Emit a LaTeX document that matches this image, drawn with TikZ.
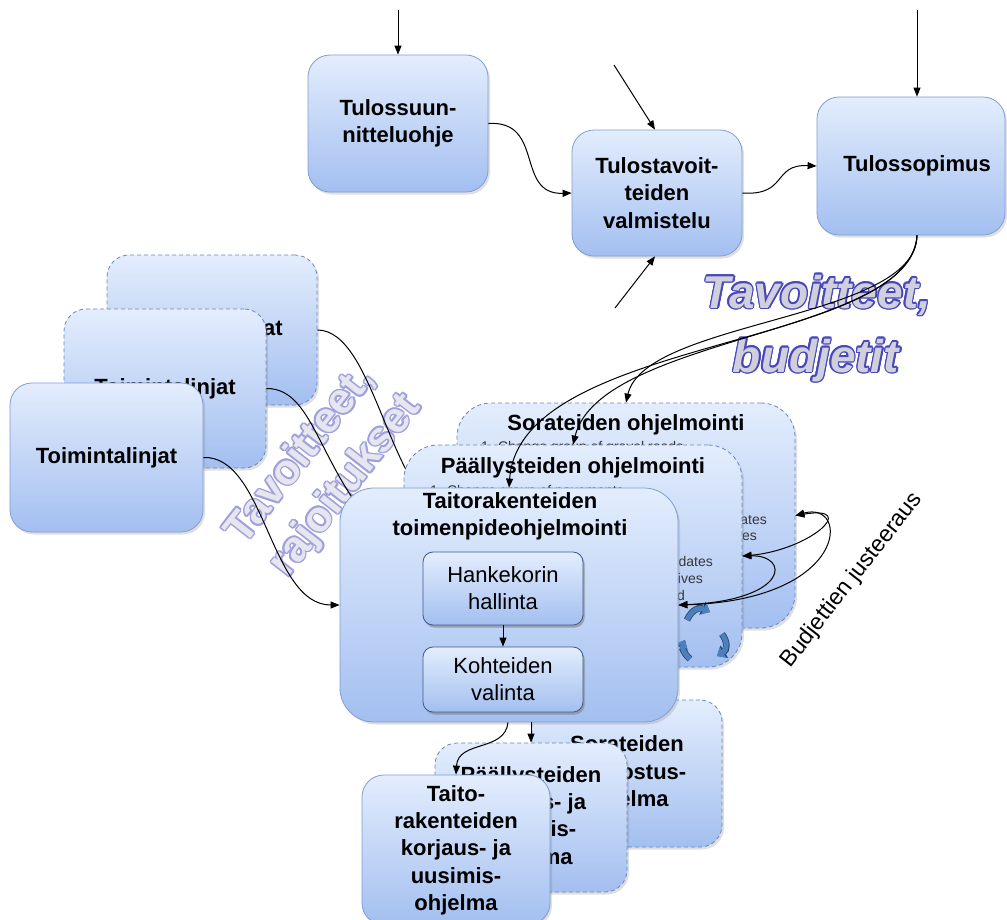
\documentclass[tikz,border=0pt]{standalone}
\usepackage{fontspec}
\setmainfont{Liberation Sans}
\usetikzlibrary{arrows.meta,shadows,calc}

\definecolor{boxtop}{RGB}{227,237,253}
\definecolor{boxbot}{RGB}{163,191,240}
\definecolor{boxline}{RGB}{128,158,210}
\definecolor{dashline}{RGB}{105,135,190}
\definecolor{innerline}{RGB}{60,90,140}
\definecolor{outlA}{RGB}{72,72,188}
\definecolor{fillA}{RGB}{208,208,220}
\definecolor{outlB}{RGB}{160,160,222}
\definecolor{fillB}{RGB}{230,230,238}
\definecolor{iconblue}{RGB}{75,128,188}
\definecolor{icondark}{RGB}{40,70,110}
\definecolor{smallgray}{RGB}{55,55,55}

\newcommand\titlesize{\fontsize{22}{27.3}\selectfont\bfseries}
\newcommand\innersize{\fontsize{22}{27}\selectfont}
\newcommand\smallsize{\fontsize{14}{17}\selectfont}
\newcommand\midbig{\fontsize{43}{50}\selectfont\bfseries}
\newcommand\bigit{\fontsize{46}{56}\selectfont\bfseries\itshape}
\newcommand\budgsize{\fontsize{23}{27}\selectfont}

% text with a coloured outline: copies in the outline colour, fill copy on top
\newcommand\outlinetext[6]{%
  \foreach \oa in {0,30,...,330}{%
    \path ($(#2)+(\oa:1.5pt)$) node[#3, text=#5] {#6};}%
  \node[#3, text=#4] (#1) at (#2) {#6};}

\tikzset{
  pbox/.style={draw=boxline, line width=0.8pt, rounded corners=22pt,
    top color=boxtop, bottom color=boxbot, align=center, inner sep=0pt,
    font=\titlesize,
    drop shadow={opacity=0.25, shadow xshift=2pt, shadow yshift=-2.5pt}},
  backbox/.style={pbox, draw=dashline, dash pattern=on 4pt off 3pt},
  bigr/.style={rounded corners=34pt},
  innerbox/.style={pbox, draw=innerline, rounded corners=10pt, font=\innersize,
    drop shadow={opacity=0.45, shadow xshift=1.5pt, shadow yshift=-2.5pt}},
  smalltxt/.style={font=\smallsize, text=smallgray, inner sep=0pt},
  arr/.style={-{Triangle[length=9pt,width=7pt]}, line width=1pt},
  biarr/.style={{Triangle[length=9pt,width=7pt]}-{Triangle[length=9pt,width=7pt]}, line width=1pt},
  iconarr/.style={line width=5pt, draw=iconblue, -{Triangle[length=7pt,width=12pt]}}
}

\begin{document}
\begin{tikzpicture}[x=1pt,y=-1pt]
\useasboundingbox (0,0) rectangle (1007,919);
\fill[white] (0,0) rectangle (1007,919);

% ---- performance agreement chain ----
\node[pbox, minimum width=180pt, minimum height=137pt] (tsuun) at (398,123.5) {Tulossuun-\\nitteluohje};
\node[pbox, minimum width=170pt, minimum height=126pt] (tval) at (657,193) {Tulostavoit-\\teiden\\valmistelu};
\node[pbox, minimum width=188pt, minimum height=138pt] (tsop) at (911,166) {\hspace*{12pt}Tulossopimus};

\coordinate (in1) at (398,10);
\coordinate (in2) at (614,65);
\coordinate (in3) at (615,308);
\coordinate (in4) at (917,10);
\draw[arr] (in1) -- (tsuun.north);
\draw[arr] (in2) -- ([xshift=-2pt]tval.north);
\draw[arr] (in3) -- ([xshift=-2pt]tval.south);
\draw[arr] (in4) -- (in4 |- tsop.north);
\draw[arr] (tsuun.east) .. controls (545,120) and (515,195) .. (tval.west);
\draw[arr] (tval.east) .. controls (788,196) and (772,164) .. (tsop.west);

\outlinetext{tb1}{817,308}{font=\bigit, anchor=base}{fillA}{outlA}{Tavoitteet,}
\outlinetext{tb2}{816,372}{font=\bigit, anchor=base}{fillA}{outlA}{budjetit}

% ---- policy lines ----
\node[backbox, minimum width=210pt, minimum height=150pt] (tl3) at (212,330) {Toimintalinjat};
\node[backbox, minimum width=202pt, minimum height=159pt] (tl2) at (165,388.5) {Toimintalinjat};
\node[pbox, minimum width=193pt, minimum height=149pt] (tl1) at (106.5,457.5) {Toimintalinjat};

\outlinetext{tr1}{300,455}{font=\midbig, rotate=52}{fillB}{outlB}{Tavoitteet,}
\outlinetext{tr2}{346,486}{font=\midbig, rotate=52}{fillB}{outlB}{rajoitukset}

% ---- gravel road programming ----
\node[backbox, bigr, minimum width=338pt, minimum height=225pt] (sor) at (626,515.5) {};
\node[font=\titlesize] (sortitle) at (626,425) {Sorateiden ohjelmointi};
\node[smalltxt, anchor=west] (sor1) at (481,448) {1. Change group of gravel roads};
\node[smalltxt, anchor=east] (sor2) at (767,521) {2. Updates};
\node[smalltxt, anchor=east] (sor3) at (757,537) {objectives};
\node[smalltxt, anchor=east] (sor4) at (739,553) {approved};
\draw[arr] (tl3.east) .. controls (375,330) and (390,500) .. (sor.west);

% ---- pavement programming ----
\node[backbox, bigr, minimum width=338pt, minimum height=222pt] (pa) at (573,556) {};
\node[font=\titlesize] (patitle) at (573,468) {Päällysteiden ohjelmointi};
\node[smalltxt, anchor=west] (pa1) at (430,492) {1. Change group of pavements};
\node[smalltxt, anchor=east] (pa2) at (713,563) {2. Updates};
\node[smalltxt, anchor=east] (pa3) at (703,580) {objectives};
\node[smalltxt, anchor=east] (pa4) at (685,597) {approved};
% cycle icon
\foreach \pa/\pb/\pc/\pd in {{(687,620)}/{(692,609)}/{(700,607)}/{(710,612)},
                            {(722,634)}/{(728,642)}/{(727,650)}/{(717,656)},
                            {(690,659)}/{(683,653)}/{(682,646)}/{(685,640)}}{
  \draw[iconarr, draw=icondark, line width=6.6pt,
        -{Triangle[length=8.5pt,width=14pt]}] \pa .. controls \pb and \pc .. \pd;
  \draw[iconarr] \pa .. controls \pb and \pc .. \pd;
}
\draw[arr] (tl2.east) .. controls (318,388) and (318,480) .. (pa.west);

% ---- repair and renewal programmes ----
\node[backbox, minimum width=190pt, minimum height=147pt] (sork) at (627,773.5) {Sorateiden\\kunnostus-\\ohjelma};
\node[backbox, minimum width=192pt, minimum height=149pt] (pak) at (531,817.5) {Päällysteiden\\korjaus- ja\\uusimis-\\ohjelma};
\node[pbox, minimum width=188pt, minimum height=150pt] (taitok) at (456,850) {Taito-\\rakenteiden\\korjaus- ja\\uusimis-\\ohjelma};

% ---- bridge programming ----
\node[pbox, bigr, minimum width=338pt, minimum height=234pt] (taito) at (509,605) {};
\node[font=\titlesize, align=center] (taititle) at (510,516) {Taitorakenteiden\\toimenpideohjelmointi};
\node[innerbox, minimum width=160pt, minimum height=73pt] (hank) at (503,588.5) {Hankekorin\\hallinta};
\node[innerbox, minimum width=160pt, minimum height=65pt] (koht) at (503,679.5) {Kohteiden\\valinta};
\draw[arr] (hank) -- (koht);

\draw[arr] (tl1.east) .. controls (265,455) and (270,605) .. (taito.west);
\draw[arr] ([xshift=-1pt]taito.south) .. controls (505,752) and (458,740) .. (taitok.north);
\draw[arr] ([xshift=22pt]taito.south) -- (pak.north);

% ---- targets and budgets from the agreement ----
\draw[arr] ([xshift=6pt]tsop.south) .. controls (917,320) and (645,320) .. (sor.north);
\draw[arr] ([xshift=6pt]tsop.south) .. controls (913,335) and (600,335) .. (pa.north);
\draw[arr] ([xshift=6pt]tsop.south) .. controls (909,350) and (520,335) .. (taito.north);

% ---- budget adjustment loops ----
\draw[biarr] (pa.east) .. controls (810,550) and (860,505) .. (sor.east);
\draw[biarr] (sor.east) .. controls (850,500) and (850,600) .. (taito.east);
\draw[biarr] (pa.east) .. controls (790,555) and (790,600) .. (taito.east);
\node[font=\budgsize, rotate=52] (budj) at (852,580) {Budjettien justeeraus};

\end{tikzpicture}
\end{document}
